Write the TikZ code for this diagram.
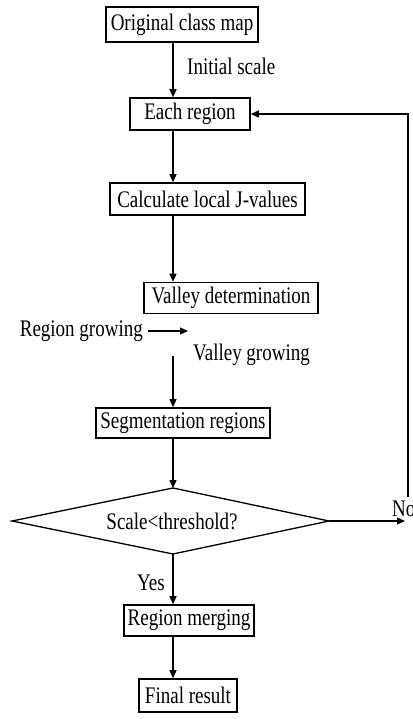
\documentclass[tikz,border=0pt]{standalone}
\usepackage{fontspec}
\setmainfont{Liberation Serif}
\usepackage{graphicx}
\usetikzlibrary{arrows.meta}
\newcommand{\tx}[1]{\scalebox{1}[1.25]{#1}}
\begin{document}
\begin{tikzpicture}[x=1pt,y=-1pt,
  box/.style={draw,line width=1.6pt,inner sep=0pt,font=\fontsize{19}{21}\selectfont},
  lbl/.style={inner sep=0pt,font=\fontsize{19}{21}\selectfont},
  arr/.style={line width=1.3pt,-{Triangle[length=8pt,width=7pt]}},
  ln/.style={line width=1.3pt}]
\useasboundingbox (0,0) rectangle (412,719);
\coordinate (axis) at (173,0);
\node[box,minimum width=152pt,minimum height=35pt] (orig) at (182,24.5) {\tx{Original class map}};
\node[box,minimum width=120pt,minimum height=32pt] (each) at (190,114) {\tx{Each region}};
\node[box,minimum width=195pt,minimum height=32pt] (calc) at (207.5,199) {\tx{Calculate local J-values}};
\node[box,minimum width=174pt,minimum height=31pt] (valley) at (231,298) {\tx{Valley determination}};
\node[box,minimum width=174pt,minimum height=30pt] (seg) at (183,423) {\tx{Segmentation regions}};
\coordinate (dtop) at (173,488);
\coordinate (dright) at (329,521);
\coordinate (dbot) at (173,554);
\coordinate (dleft) at (12,521);
\draw[ln] (dtop) -- (dright) -- (dbot) -- (dleft) -- cycle;
\node[lbl] (dec) at (172,521) {\tx{Scale<threshold?}};
\node[box,minimum width=130pt,minimum height=31pt] (merge) at (189,620.5) {\tx{Region merging}};
\node[box,minimum width=98pt,minimum height=33pt] (final) at (188,695.5) {\tx{Final result}};
\node[lbl,anchor=west] (init) at (187,66) {\tx{Initial scale}};
\node[lbl,anchor=east] (rg) at (143,331) {\tx{Region growing}};
\node[lbl,anchor=west] (vg) at (193,355) {\tx{Valley growing}};
\node[lbl,anchor=east] (yes) at (165,583) {\tx{Yes}};
\node[lbl,anchor=west] (no) at (392,509) {\tx{No}};
\coordinate (rgs) at (148,331);
\coordinate (rge) at (188,331);
\coordinate (vgs) at (173,356);
\coordinate (noend) at (405,521);
\coordinate (nocorner) at (408,497);
\coordinate (topcorner) at (408,114);
\draw[arr] (orig.south -| axis) -- (each.north -| axis);
\draw[arr] (each.south -| axis) -- (calc.north -| axis);
\draw[arr] (calc.south -| axis) -- (valley.north -| axis);
\draw[arr] (rgs) -- (rge);
\draw[arr] (vgs) -- (seg.north -| axis);
\draw[arr] (seg.south -| axis) -- (dtop);
\draw[arr] (dbot) -- (merge.north -| axis);
\draw[arr] (merge.south -| axis) -- (final.north -| axis);
\draw[arr] (dright) -- (noend);
\draw[arr] (nocorner) -- (topcorner) -- (each.east);
\end{tikzpicture}
\end{document}
